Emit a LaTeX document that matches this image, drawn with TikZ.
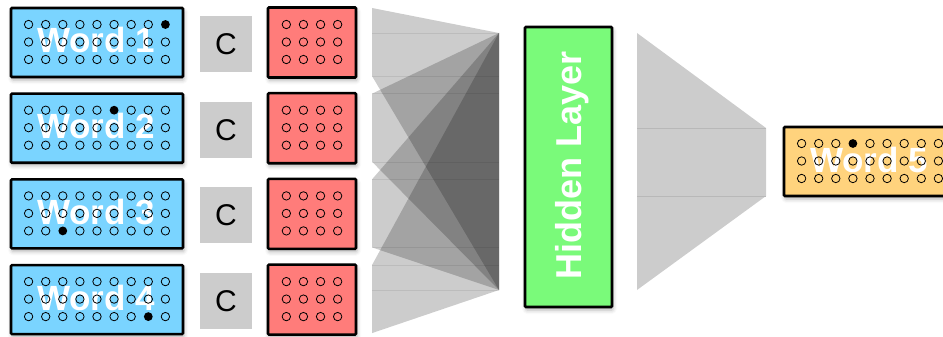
\documentclass[tikz,border=0pt]{standalone}
\usepackage{fontspec}
\setmainfont{Liberation Sans}
\usetikzlibrary{shadows.blur,calc}
\definecolor{wordblue}{RGB}{122,212,255}
\definecolor{embred}{RGB}{255,124,122}
\definecolor{hidgreen}{RGB}{122,250,122}
\definecolor{outorange}{RGB}{255,211,125}
\definecolor{cgray}{RGB}{204,204,204}
\tikzset{
  boxshadow/.style={blur shadow={shadow xshift=1pt,shadow yshift=-3pt,shadow blur radius=4pt,shadow opacity=30}},
  wordbox/.style={draw=black,line width=2.6pt,rounded corners=1pt,fill=wordblue,minimum width=172pt,minimum height=69pt,inner sep=0pt,boxshadow},
  outbox/.style={wordbox,fill=outorange},
  embbox/.style={draw=black,line width=2.6pt,rounded corners=1pt,fill=embred,minimum width=88pt,minimum height=70pt,inner sep=0pt,boxshadow},
  hidbox/.style={draw=black,line width=2.6pt,rounded corners=1pt,fill=hidgreen,minimum width=87pt,minimum height=280pt,inner sep=0pt,boxshadow},
  cbox/.style={fill=cgray,minimum width=52pt,minimum height=56pt,inner sep=0pt,font=\fontsize{30}{30}\selectfont},
  wordlabel/.style={text=white,font=\fontsize{35}{35}\selectfont\bfseries,anchor=base,inner sep=0pt},
  hidlabel/.style={text=white,font=\fontsize{36}{36}\selectfont\bfseries,anchor=base,inner sep=0pt,rotate=90},
  hdot/.style={draw=black,line width=0.8pt},
  fdot/.style={fill=black},
  fan/.style={fill=black,fill opacity=0.2},
  seam/.style={draw=black,draw opacity=0.08,line width=0.6pt},
  rfan/.style={fill=cgray},
  rseam/.style={draw=black!28,line width=0.6pt},
}
% #1 node, #2 last column index, #3 filled row, #4 filled column
\newcommand\mydotgrid[4]{%
  \foreach \r in {0,1,2}{%
    \foreach \c in {0,...,#2}{%
      \pgfmathsetmacro\dx{(\c-#2/2)*17.1}%
      \pgfmathsetmacro\dy{(\r-1)*17.5-0.5}%
      \ifnum\numexpr\r*10+\c\relax=\numexpr#3*10+#4\relax
        \fill[fdot] ($(#1.center)+(\dx,\dy)$) circle (4.4pt);
      \else
        \draw[hdot] ($(#1.center)+(\dx,\dy)$) circle (4.2pt);
      \fi
    }%
  }%
}
\begin{document}
\begin{tikzpicture}[x=1pt,y=-1pt]
\useasboundingbox (0,0) rectangle (943,337);
% ---- fans from embeddings to hidden layer
\coordinate (hinT) at (499,33);
\coordinate (hinB) at (499,290);
\foreach \i in {0,1,2,3}{
  \pgfmathsetmacro\yt{8+85.7*\i}
  \pgfmathsetmacro\yb{76+85.7*\i}
  \fill[fan] (372,\yt) -- (hinT) -- (hinB) -- (372,\yb) -- cycle;
}
\foreach \y in {33,76,93,162,179,247,265,290}
  \draw[seam] (372,\y) -- (499,\y);
% ---- fan from hidden layer to output
\coordinate (houtT) at (637,33);
\coordinate (houtB) at (637,290);
\coordinate (oinT) at (766,128);
\coordinate (oinB) at (766,196);
\fill[rfan] (houtT) -- (oinT) -- (oinB) -- (houtB) -- cycle;
\draw[rseam] (637,128) -- (oinT);
\draw[rseam] (637,196) -- (oinB);
% ---- input words, C, embeddings
\foreach \i/\fr/\fc in {1/0/8,2/0/5,3/2/2,4/2/7}{
  \pgfmathsetmacro\yc{42.5+85.7*(\i-1)}
  \node[wordbox] (word\i) at (97,\yc) {};
  \node[wordlabel] (wordlab\i) at ($(word\i.center)+(-1,10.5)$) {Word \i};
  \mydotgrid{word\i}{8}{\fr}{\fc}
  \node[cbox] (c\i) at (226,\yc+1.5) {C};
  \node[embbox] (emb\i) at (312,\yc) {};
  \mydotgrid{emb\i}{3}{-1}{-1}
}
% ---- hidden layer
\node[hidbox] (hidden) at (568.5,167) {};
\node[hidlabel] (hiddenlab) at (581,165) {Hidden Layer};
% ---- output word
\node[outbox] (word5) at (870,161.5) {};
\node[wordlabel] (wordlab5) at ($(word5.center)+(-1,11)$) {Word 5};
\mydotgrid{word5}{8}{0}{3}
\end{tikzpicture}
\end{document}
